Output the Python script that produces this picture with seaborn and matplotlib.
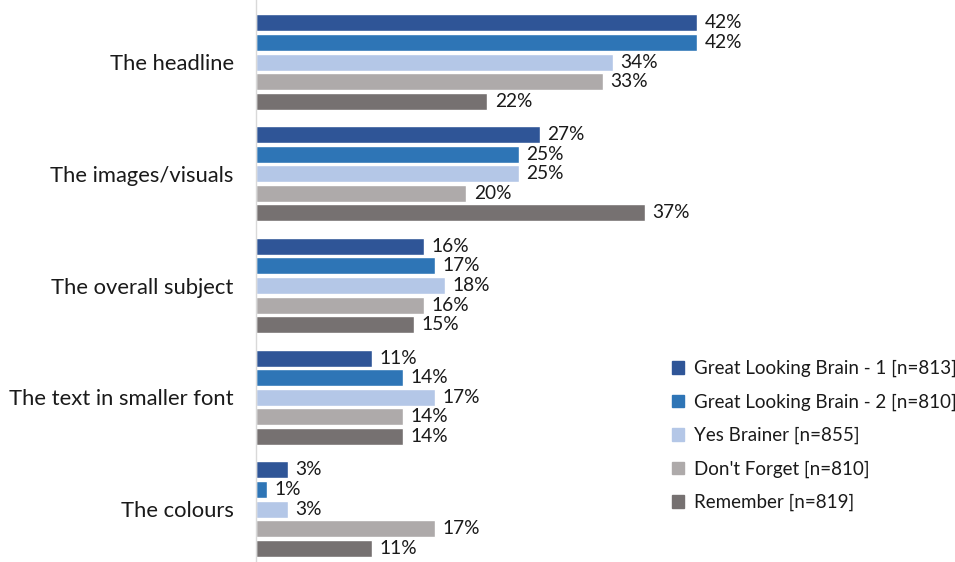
import matplotlib
matplotlib.use("Agg")
import matplotlib.pyplot as plt
import seaborn as sns
import pandas as pd

categories = ["The headline", "The images/visuals", "The overall subject",
              "The text in smaller font", "The colours"]
series = ["Great Looking Brain - 1 [n=813]", "Great Looking Brain - 2 [n=810]",
          "Yes Brainer [n=855]", "Don't Forget [n=810]", "Remember [n=819]"]
glb1 = [42, 27, 16, 11, 3]
glb2 = [42, 25, 17, 14, 1]
yes_brainer = [34, 25, 18, 17, 3]
dont_forget = [33, 20, 16, 14, 17]
remember = [22, 37, 15, 14, 11]
colors = ["#2F5597", "#2E75B6", "#B4C7E7", "#AEAAAA", "#767171"]

rows = []
for name, vals in zip(series, [glb1, glb2, yes_brainer, dont_forget, remember]):
    for cat, v in zip(categories, vals):
        rows.append({"category": cat, "series": name, "value": v})
df = pd.DataFrame(rows)

sns.set_theme(style="white")
plt.rcParams["font.family"] = ["Lato", "DejaVu Sans"]

fig = plt.figure(figsize=(9.55, 5.62), dpi=100)
ax = fig.add_axes([256 / 955, 0, (45 * 10.5) / 955, 1])

sns.barplot(data=df, x="value", y="category", hue="series", order=categories,
            hue_order=series, palette=colors, orient="h", width=0.875, gap=0.13,
            saturation=1, ax=ax, legend=False)

for container in ax.containers:
    ax.bar_label(container, labels=[f"{v:.0f}%" for v in container.datavalues],
                 padding=5.5, fontsize=13.8, color="#1a1a1a")

ax.set_xlim(0, 45)
ax.set_ylim(4.474, -0.555)
ax.set_xlabel("")
ax.set_ylabel("")
ax.set_xticks([])
ax.tick_params(axis="y", length=0, pad=16, labelsize=15.8, labelcolor="#1a1a1a")
for s in ["top", "right", "bottom"]:
    ax.spines[s].set_visible(False)
ax.spines["left"].set_color("#D9D9D9")
ax.spines["left"].set_linewidth(1)

handles = [plt.Rectangle((0, 0), 1, 1, color=c) for c in colors]
fig.legend(handles, series, loc="upper left", bbox_to_anchor=(672 / 955, 1 - 360 / 562),
           frameon=False, fontsize=13.5, handlelength=0.65, handleheight=0.65,
           handletextpad=0.5, labelspacing=0.86, borderaxespad=0, borderpad=0,
           labelcolor="#1a1a1a")

fig.savefig("out.png", dpi=100)
